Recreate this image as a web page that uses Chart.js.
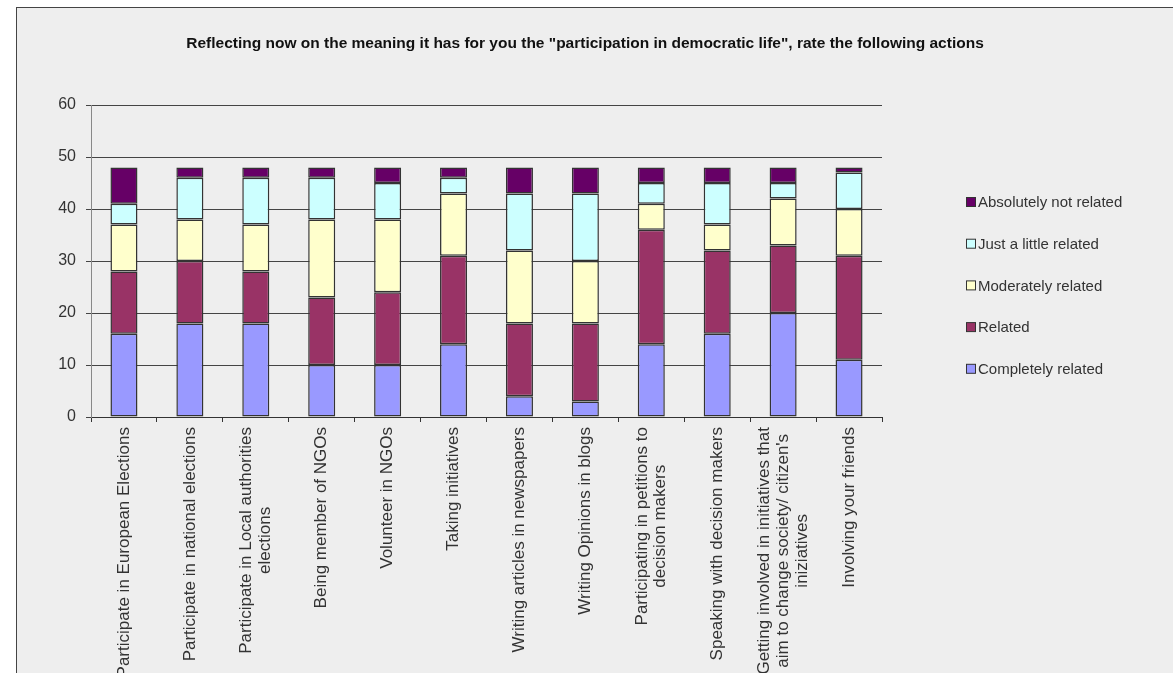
<!DOCTYPE html>
<html>
<head>
<meta charset="utf-8">
<script src="https://cdn.jsdelivr.net/npm/chart.js@4.4.0/dist/chart.umd.min.js"></script>
<style>
  html, body { margin: 0; padding: 0; background: #ffffff; }
  #wrap { position: absolute; left: 0; top: 0; width: 1173px; height: 673px; }
</style>
</head>
<body>
<div id="wrap"><canvas id="chart" width="1173" height="673"></canvas></div>
<script>
// categories (x axis)
const actions = [
    'Participate in European Elections',
    'Participate in national elections',
    ['Participate in Local authorities', 'elections'],
    'Being member of NGOs',
    'Volunteer in NGOs',
    'Taking initiatives',
    'Writing articles in newspapers',
    'Writing Opinions in blogs',
    ['Participating in petitions to', 'decision makers'],
    'Speaking with decision makers',
    ['Getting involved in initiatives that', 'aim to change society/ citizen\'s', 'iniziatives'],
    'Involving your friends'
];

// series values, bottom of stack first
const completelyRelated    = [16, 18, 18, 10, 10, 14, 4, 3, 14, 16, 20, 11];
const related              = [12, 12, 10, 13, 14, 17, 14, 15, 22, 16, 13, 20];
const moderatelyRelated    = [9, 8, 9, 15, 14, 12, 14, 12, 5, 5, 9, 9];
const justALittleRelated   = [4, 8, 9, 8, 7, 3, 11, 13, 4, 8, 3, 7];
const absolutelyNotRelated = [7, 2, 2, 2, 3, 2, 5, 5, 3, 3, 3, 1];

const yTicks = [0, 10, 20, 30, 40, 50, 60];

const chartTitle = 'Reflecting now on the meaning it has for you the "participation in democratic life", rate the following actions';

const FONT = "'Liberation Sans', Arial, sans-serif";
const TEXT = '#333333';
const LABEL_SIZE = 17;
const LABEL_LH = 1.1;

function series(label, data, color) {
    return {
        label: label,
        data: data,
        backgroundColor: color,
        borderColor: '#333333',
        borderWidth: 1.5,
        borderSkipped: false,
        barPercentage: 0.41,
        categoryPercentage: 1.0
    };
}

// frame, grey background and the title
const framePlugin = {
    id: 'frame',
    beforeDraw(chart) {
        const ctx = chart.ctx;
        ctx.save();
        ctx.fillStyle = '#eeeeee';
        ctx.fillRect(16, 7, 1173, 673);
        ctx.strokeStyle = '#444444';
        ctx.lineWidth = 1;
        ctx.strokeRect(16.5, 7.5, 1180, 700);

        ctx.fillStyle = '#111111';
        ctx.font = 'bold 15.5px ' + FONT;
        ctx.textAlign = 'center';
        ctx.textBaseline = 'middle';
        ctx.fillText(chartTitle, 585, 44);
        ctx.restore();

        // multi-line category labels: centre the block on the tick and centre the lines
        const xs = chart.scales.x;
        const items = xs.getLabelItems();
        ctx.save();
        ctx.font = LABEL_SIZE + 'px ' + FONT;
        items.forEach(item => {
            if (Array.isArray(item.label) && item.label.length > 1 && !item._centred) {
                const n = item.label.length;
                const widest = Math.max(...item.label.map(s => ctx.measureText(s).width));
                item.options.translation[0] -= (n - 1) * LABEL_SIZE * LABEL_LH / 2;
                item.options.translation[1] += widest / 2;
                item.options.textAlign = 'center';
                item._centred = true;
            }
        });
        ctx.restore();
    }
};

// legend on the right, top entry = top of stack
const sideLegend = {
    id: 'sideLegend',
    afterDraw(chart) {
        const ctx = chart.ctx;
        const sets = chart.data.datasets.slice().reverse();
        ctx.save();
        ctx.font = '15px ' + FONT;
        ctx.textBaseline = 'middle';
        ctx.textAlign = 'left';
        sets.forEach((ds, i) => {
            const y = 202 + i * 41.7;
            ctx.fillStyle = ds.backgroundColor;
            ctx.fillRect(966.5, y - 4.5, 9, 9);
            ctx.strokeStyle = '#333333';
            ctx.lineWidth = 1;
            ctx.strokeRect(966.5, y - 4.5, 9, 9);
            ctx.fillStyle = TEXT;
            ctx.fillText(ds.label, 978, y + 1);
        });
        ctx.restore();
    }
};

new Chart(document.getElementById('chart').getContext('2d'), {
    type: 'bar',
    data: {
        labels: actions,
        datasets: [
            series('Completely related', completelyRelated, '#9999ff'),
            series('Related', related, '#993366'),
            series('Moderately related', moderatelyRelated, '#ffffcc'),
            series('Just a little related', justALittleRelated, '#ccffff'),
            series('Absolutely not related', absolutelyNotRelated, '#660066')
        ]
    },
    options: {
        responsive: false,
        animation: false,
        layout: { padding: { left: 0, right: 291, top: 105, bottom: 0 } },
        plugins: {
            legend: { display: false },
            tooltip: { enabled: false },
            title: { display: false }
        },
        scales: {
            x: {
                stacked: true,
                offset: true,
                afterFit(scale) { scale.height = 256; },
                grid: { offset: true, drawOnChartArea: false, color: '#333333', tickLength: 5 },
                border: { color: '#333333' },
                ticks: {
                    autoSkip: false,
                    minRotation: 90,
                    maxRotation: 90,
                    padding: 5,
                    color: TEXT,
                    font: { family: FONT, size: LABEL_SIZE, lineHeight: LABEL_LH }
                }
            },
            y: {
                stacked: true,
                min: yTicks[0],
                max: yTicks[yTicks.length - 1],
                afterFit(scale) { scale.width = 91; },
                afterBuildTicks(scale) { scale.ticks = yTicks.map(v => ({ value: v })); },
                grid: { color: '#444444', tickLength: 5 },
                border: { color: '#888888' },
                ticks: {
                    padding: 10,
                    color: TEXT,
                    font: { family: FONT, size: 16 }
                }
            }
        }
    },
    plugins: [framePlugin, sideLegend]
});
</script>
</body>
</html>
